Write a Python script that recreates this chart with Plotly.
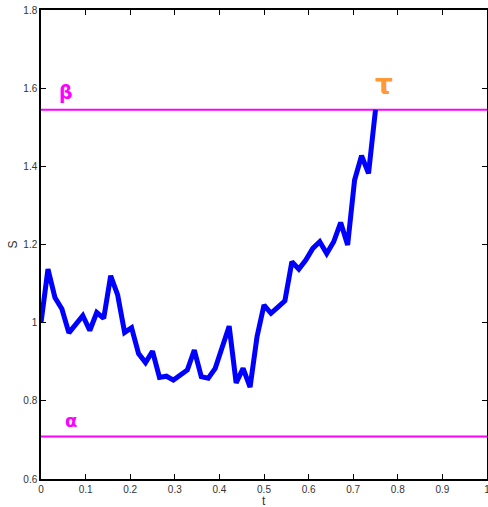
import plotly.graph_objects as go

# Time grid (dt = 1/64) and path values
t_steps = list(range(49))
t_values = [k / 64 for k in t_steps]
s_values = [1.000, 1.137, 1.064, 1.035, 0.974, 0.998, 1.018, 0.980, 1.026, 1.011,
            1.120, 1.071, 0.975, 0.987, 0.921, 0.898, 0.927, 0.860, 0.863, 0.853,
            0.866, 0.879, 0.930, 0.862, 0.858, 0.883, 0.937, 0.991, 0.846, 0.883,
            0.835, 0.964, 1.045, 1.024, 1.040, 1.056, 1.156, 1.137, 1.160, 1.190,
            1.207, 1.177, 1.207, 1.256, 1.199, 1.365, 1.427, 1.382, 1.545]

alpha_level = 0.709
beta_level = 1.545
x_range = [0, 1]
y_range = [0.6, 1.8]
x_ticks = [0, 0.1, 0.2, 0.3, 0.4, 0.5, 0.6, 0.7, 0.8, 0.9, 1]
y_ticks = [0.6, 0.8, 1.0, 1.2, 1.4, 1.6, 1.8]

fig = go.Figure()
fig.add_trace(go.Scatter(x=x_range, y=[beta_level, beta_level], mode="lines",
                         line=dict(color="#ff00ff", width=2), showlegend=False))
fig.add_trace(go.Scatter(x=x_range, y=[alpha_level, alpha_level], mode="lines",
                         line=dict(color="#ff00ff", width=2), showlegend=False))
fig.add_trace(go.Scatter(x=t_values, y=s_values, mode="lines",
                         line=dict(color="#0000ff", width=5), showlegend=False))

fig.add_annotation(x=0.055, y=beta_level + 0.045, text="<b>β</b>", showarrow=False,
                   font=dict(family="DejaVu Sans", size=19, color="#ff00ff"))
fig.add_annotation(x=0.068, y=alpha_level + 0.04, text="<b>α</b>", showarrow=False,
                   font=dict(family="DejaVu Sans", size=18, color="#ff00ff"))
fig.add_annotation(x=0.768, y=beta_level + 0.065, text="<b>τ</b>", showarrow=False,
                   font=dict(family="DejaVu Sans", size=28, color="#ff9933"))

# axis titles
fig.add_annotation(x=0.5, y=0, xref="x domain", yref="paper", yshift=-13, yanchor="top",
                   text="t", showarrow=False,
                   font=dict(family="Liberation Sans", size=12, color="#333"))
fig.add_annotation(x=0, y=0.5, xref="paper", yref="y domain", xshift=-29, xanchor="center",
                   text="S", textangle=-90, showarrow=False,
                   font=dict(family="Liberation Sans", size=12, color="#333"))

axis_common = dict(showgrid=False, zeroline=False, showline=True, linecolor="black",
                   linewidth=1.5, mirror="ticks", ticks="inside", ticklen=5,
                   tickcolor="black", automargin=False, ticklabeloverflow="allow",
                   tickfont=dict(family="Liberation Sans", size=10, color="#333"))

fig.update_xaxes(range=x_range, tickvals=x_ticks, ticktext=[f"{v:g}" for v in x_ticks],
                 **axis_common)
fig.update_yaxes(range=y_range, tickvals=y_ticks, ticktext=[f"{v:g}" for v in y_ticks],
                 **axis_common)

fig.update_layout(width=488, height=507, margin=dict(l=41, r=1, t=10, b=28),
                  plot_bgcolor="white", paper_bgcolor="white")

fig.write_html("out.html", config={"displayModeBar": False},
               post_script="document.body.style.margin='0px';")
